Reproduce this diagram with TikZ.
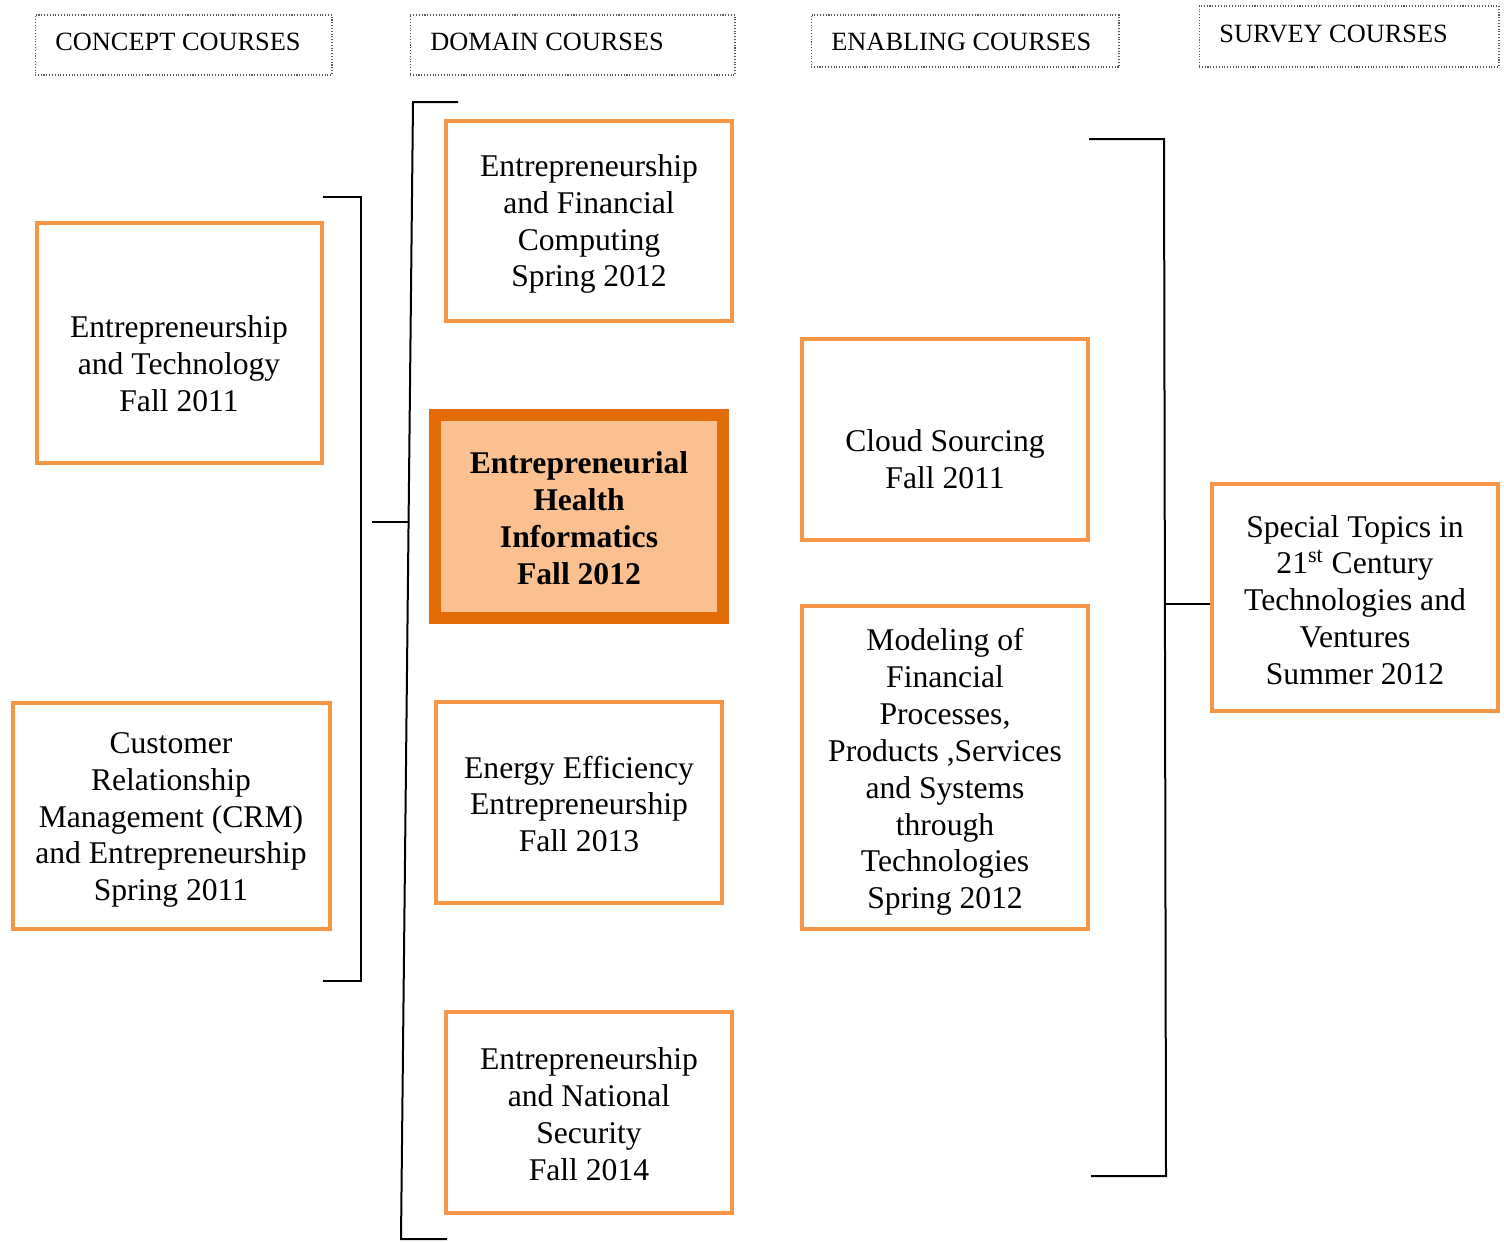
\documentclass[tikz,border=0pt]{standalone}
\usepackage{fontspec}
\setmainfont{Liberation Serif}
\definecolor{boxorange}{HTML}{F79646}
\definecolor{huborange}{HTML}{E36C09}
\definecolor{hubfill}{HTML}{FAC090}
\begin{document}
\begin{tikzpicture}[x=0.02cm,y=-0.02cm,
  crs/.style={draw=boxorange, line width=0.09cm, inner sep=0pt},
  hubbox/.style={draw=huborange, fill=hubfill, line width=0.24cm, inner sep=0pt},
  crstext/.style={align=center, font=\fontsize{18}{21}\selectfont, inner sep=0pt},
  hdrbox/.style={draw=black!65, densely dotted, line width=0.6pt, inner sep=0pt},
  hdrtext/.style={anchor=base west, font=\fontsize{15}{18}\selectfont, inner sep=0pt},
  brk/.style={line width=0.04cm, black}]
\useasboundingbox (0,0) rectangle (1504,1241);

% headers
\node[hdrbox, minimum width=5.94cm, minimum height=1.2cm] (h1) at (183.5,45) {};
\node[hdrbox, minimum width=6.5cm, minimum height=1.2cm] (h2) at (572.5,45) {};
\node[hdrbox, minimum width=6.16cm, minimum height=1.04cm] (h3) at (965,41) {};
\node[hdrbox, minimum width=6.0cm, minimum height=1.22cm] (h4) at (1349,36.5) {};
\node[hdrtext] (h1t) at (55,50) {CONCEPT COURSES};
\node[hdrtext] (h2t) at (430,50) {DOMAIN COURSES};
\node[hdrtext] (h3t) at (831,50) {ENABLING COURSES};
\node[hdrtext] (h4t) at (1219,42) {SURVEY COURSES};

% concept courses
\node[crs, minimum width=5.7cm, minimum height=4.8cm] (b1) at (179.5,343) {};
\node[crstext] (b1t) at (179,364) {Entrepreneurship\\and Technology\\Fall 2011};
\node[crs, minimum width=6.34cm, minimum height=4.52cm] (b2) at (171.5,816) {};
\node[crstext] (b2t) at (171,820) {Customer\\Relationship\\Management (CRM)\\and Entrepreneurship\\Spring 2011};

% domain courses
\node[crs, minimum width=5.72cm, minimum height=4.0cm] (d1) at (589,221) {};
\node[crstext] (d1t) at (589,224) {Entrepreneurship\\and Financial\\Computing\\Spring 2012};
\node[hubbox, minimum width=5.76cm, minimum height=4.06cm] (hub) at (579,516.5) {};
\node[crstext, font=\fontsize{18}{21}\selectfont\bfseries] (hubt) at (579,518) {Entrepreneurial\\Health\\Informatics\\Fall 2012};
\node[crs, minimum width=5.72cm, minimum height=4.02cm] (d3) at (579,802.5) {};
\node[crstext] (d3t) at (579,804) {Energy Efficiency\\Entrepreneurship\\Fall 2013};
\node[crs, minimum width=5.72cm, minimum height=4.02cm] (d4) at (589,1112.5) {};
\node[crstext] (d4t) at (589,1114) {Entrepreneurship\\and National\\Security\\Fall 2014};

% enabling courses
\node[crs, minimum width=5.72cm, minimum height=4.02cm] (e1) at (945,439.5) {};
\node[crstext] (e1t) at (945,459) {Cloud Sourcing\\Fall 2011};
\node[crs, minimum width=5.72cm, minimum height=6.46cm] (e2) at (945,767.5) {};
\node[crstext] (e2t) at (945,772) {Modeling of\\Financial\\Processes,\\Products ,Services\\and Systems\\through\\Technologies\\Spring 2012};

% survey course
\node[crs, minimum width=5.72cm, minimum height=4.54cm] (s1) at (1355,597.5) {};
\node[crstext] (s1t) at (1355,600) {Special Topics in\\21\textsuperscript{st} Century\\Technologies and\\Ventures\\Summer 2012};

% brackets
\coordinate (cb1) at (323,197);
\coordinate (cb2) at (361,197);
\coordinate (cb3) at (361,981);
\coordinate (cb4) at (323,981);
\draw[brk] (cb1) -- (cb2) -- (cb3) -- (cb4);
\coordinate (cs1) at (372,522);
\coordinate (cs2) at (409,522);
\draw[brk] (cs1) -- (cs2);

\coordinate (db1) at (458,102);
\coordinate (db2) at (413,102);
\coordinate (db3) at (401,1239);
\coordinate (db4) at (447,1239);
\draw[brk] (db1) -- (db2) -- (db3) -- (db4);

\coordinate (rb1) at (1089,139);
\coordinate (rb2) at (1164,139);
\coordinate (rb3) at (1166,1176);
\coordinate (rb4) at (1091,1176);
\draw[brk] (rb1) -- (rb2) -- (rb3) -- (rb4);
\coordinate (rs) at (1165,604);
\draw[brk] (rs) -- (rs -| s1.west);
\end{tikzpicture}
\end{document}
